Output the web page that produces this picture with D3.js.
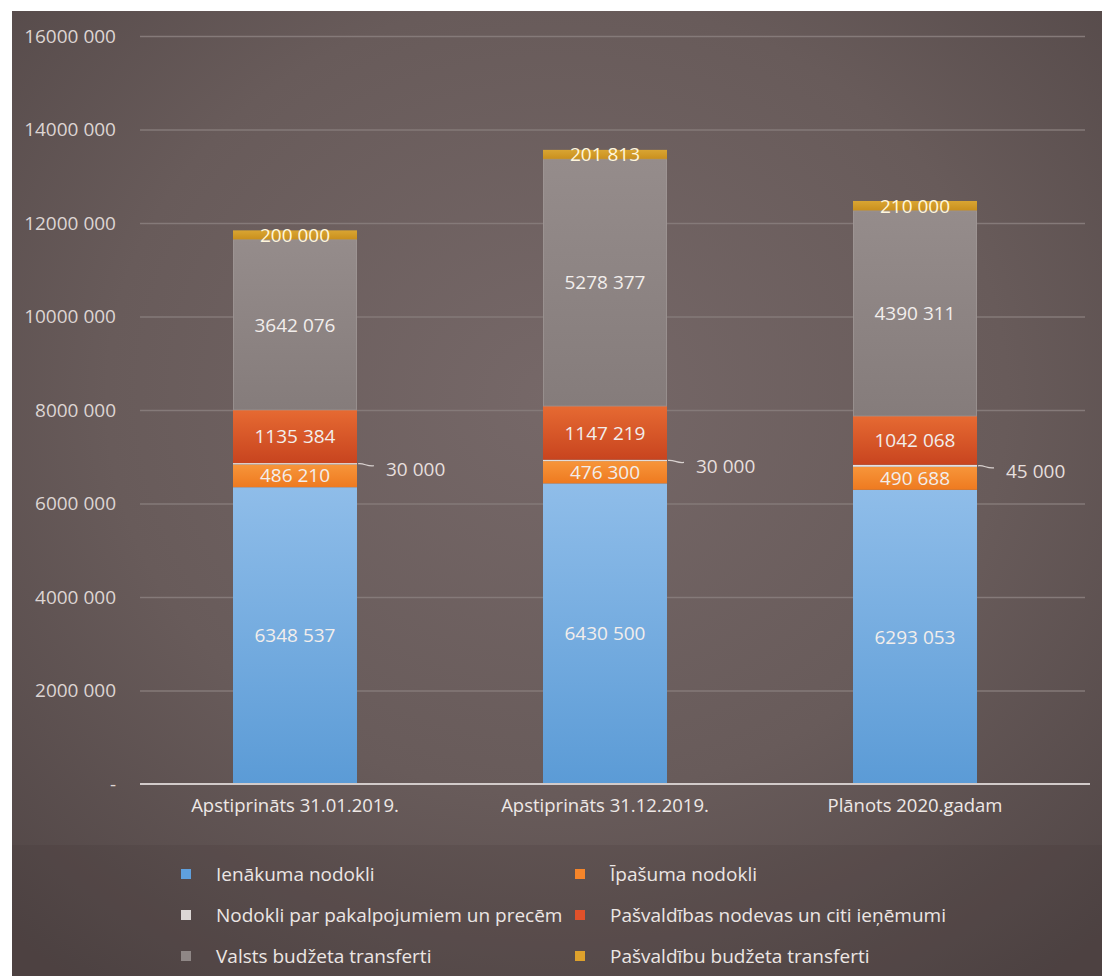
<!DOCTYPE html>
<html>
<head>
<meta charset="utf-8">
<script src="https://cdn.jsdelivr.net/npm/d3@7"></script>
<style>
  html, body { margin: 0; padding: 0; background: #ffffff; }
  svg { display: block; font-family: "Open Sans", sans-serif; }
</style>
</head>
<body>
<svg id="ctner"></svg>
<script>
// data
const categories = ["Apstiprināts 31.01.2019.", "Apstiprināts 31.12.2019.", "Plānots 2020.gadam"];
const seriesNames = [
  "Ienākuma nodokli",
  "Īpašuma nodokli",
  "Nodokli par pakalpojumiem un precēm",
  "Pašvaldības nodevas un citi ieņēmumi",
  "Valsts budžeta transferti",
  "Pašvaldību budžeta transferti"
];
const ienakuma = [6348537, 6430500, 6293053];
const ipasuma = [486210, 476300, 490688];
const pakalpojumi = [30000, 30000, 45000];
const nodevas = [1135384, 1147219, 1042068];
const valstsTransferti = [3642076, 5278377, 4390311];
const pasvaldibuTransferti = [200000, 201813, 210000];
const yTicks = [0, 2000000, 4000000, 6000000, 8000000, 10000000, 12000000, 14000000, 16000000];

main();

function main() {
  const width = 1102;
  const height = 976;
  const svg = d3.select("#ctner").attr("width", width).attr("height", height);

  const margin = { top: 36, left: 140, bottom: 192, right: 32 };
  const plotBottom = height - margin.bottom; // 784

  /* data */
  const values = [ienakuma, ipasuma, pakalpojumi, nodevas, valstsTransferti, pasvaldibuTransferti];
  const table = categories.map((c, i) => {
    const row = { cat: c };
    seriesNames.forEach((s, j) => (row[s] = values[j][i]));
    return row;
  });
  const stacked = d3.stack().keys(seriesNames)(table);

  /* colours (gradients) */
  const defs = svg.append("defs");
  const bg = defs.append("radialGradient").attr("id", "bg")
    .attr("cx", "50%").attr("cy", "40%").attr("r", "75%");
  bg.append("stop").attr("offset", "0%").attr("stop-color", "#766868");
  bg.append("stop").attr("offset", "55%").attr("stop-color", "#685b5a");
  bg.append("stop").attr("offset", "100%").attr("stop-color", "#504545");

  const grads = [
    ["#8fbde9", "#5b9bd6"],
    ["#f7953a", "#ee7a20"],
    ["#ece8e6", "#d9d4d2"],
    ["#e66a32", "#c8441f"],
    ["#958c8b", "#857c7b"],
    ["#d9a532", "#c98f1d"]
  ];
  grads.forEach((g, i) => {
    const lg = defs.append("linearGradient").attr("id", "g" + i)
      .attr("x1", 0).attr("y1", 0).attr("x2", 0).attr("y2", 1);
    lg.append("stop").attr("offset", "0%").attr("stop-color", g[0]);
    lg.append("stop").attr("offset", "100%").attr("stop-color", g[1]);
  });

  /* background panel */
  svg.append("rect").attr("x", 12).attr("y", 11).attr("width", width - 12).attr("height", height - 11)
    .attr("fill", "url(#bg)");
  svg.append("rect").attr("x", 12).attr("y", 845).attr("width", width - 12).attr("height", height - 845)
    .attr("fill", "#3a3030").attr("opacity", 0.15);

  /* scales */
  const x = d3.scaleBand().domain(categories).range([margin.left, 1070]).paddingInner(0.6).paddingOuter(0.3);
  const y = d3.scaleLinear().domain([0, 16000000]).range([plotBottom, margin.top]);

  const fmt = (v) => {
    if (v === 0) return "-";
    const s = String(v);
    return s.slice(0, -3) + " " + s.slice(-3);
  };

  /* grid + y axis */
  const yAxis = svg.append("g").attr("transform", `translate(${margin.left},0)`)
    .call(d3.axisLeft(y).tickValues(yTicks).tickFormat(fmt).tickSize(0).tickPadding(24))
    .call((g) => g.select(".domain").remove());
  yAxis.selectAll(".tick text").attr("fill", "#ddd5d3").style("font-size", "19px")
    .style("font-family", "'Open Sans', sans-serif");
  yAxis.selectAll(".tick line").clone()
    .attr("x2", (d) => (d === 0 ? 0 : 945))
    .attr("stroke", "#857a79").attr("stroke-width", 1.3);

  /* bars */
  const layer = svg.append("g").selectAll("g").data(stacked).join("g")
    .attr("fill", (d, i) => `url(#g${i})`);
  layer.selectAll("rect").data((d) => d).join("rect")
    .attr("x", (d) => x(d.data.cat))
    .attr("width", x.bandwidth())
    .attr("y", (d) => y(d[1]))
    .attr("height", (d) => y(d[0]) - y(d[1]));
  // faint outline on the grey transfer segment
  svg.append("g").selectAll("rect").data(stacked[4]).join("rect")
    .attr("x", (d) => x(d.data.cat) + 0.5)
    .attr("width", x.bandwidth() - 1)
    .attr("y", (d) => y(d[1]))
    .attr("height", (d) => y(d[0]) - y(d[1]))
    .attr("fill", "none").attr("stroke", "#a39b9a").attr("stroke-opacity", 0.6);

  /* baseline */
  svg.append("line").attr("x1", margin.left).attr("x2", 1090)
    .attr("y1", plotBottom).attr("y2", plotBottom)
    .attr("stroke", "#d2cbca").attr("stroke-width", 2);

  /* value labels */
  const labels = svg.append("g").style("font-size", "19px").attr("text-anchor", "middle");
  stacked.forEach((s, i) => {
    if (i === 2) return;
    labels.selectAll(null).data(s).join("text")
      .attr("x", (d) => x(d.data.cat) + x.bandwidth() / 2)
      .attr("y", (d) => (y(d[0]) + y(d[1])) / 2)
      .attr("dy", "0.35em")
      .attr("fill", i === 5 ? "#fff6dc" : "#f2eeec")
      .text((d) => fmt(d[1] - d[0]));
  });
  // outside labels for the thin segment
  const outs = svg.append("g");
  outs.selectAll("path").data(stacked[2]).join("path")
    .attr("d", (d) => {
      const x0 = x(d.data.cat) + x.bandwidth() + 1;
      const yy = y((d[0] + d[1]) / 2);
      return `M${x0},${yy} C${x0 + 6},${yy - 1} ${x0 + 9},${yy + 3} ${x0 + 16},${yy + 2}`;
    })
    .attr("fill", "none").attr("stroke", "#d8d1cf").attr("stroke-width", 1.2);
  outs.selectAll("text").data(stacked[2]).join("text")
    .attr("x", (d) => x(d.data.cat) + x.bandwidth() + 29)
    .attr("y", (d) => y((d[0] + d[1]) / 2) + 6)
    .attr("dy", "0.35em")
    .attr("fill", "#e6dfdd").style("font-size", "19px")
    .text((d) => fmt(d[1] - d[0]));

  /* x axis labels */
  svg.append("g").attr("transform", `translate(0,${plotBottom})`)
    .call(d3.axisBottom(x).tickSize(0).tickPadding(15))
    .call((g) => g.select(".domain").remove())
    .selectAll("text").attr("fill", "#eee8e6").style("font-size", "18.5px")
    .style("font-family", "'Open Sans', sans-serif");

  /* legend */
  const legendPos = [
    [186, 874], [580, 874],
    [186, 915], [580, 915],
    [186, 956], [580, 956]
  ];
  const legendColors = ["#5fa0dd", "#f5852a", "#dcd7d5", "#e0512a", "#8f8786", "#dda12c"];
  const legend = svg.append("g").selectAll("g").data(seriesNames).join("g")
    .attr("transform", (d, i) => `translate(${legendPos[i][0]},${legendPos[i][1]})`);
  legend.append("rect").attr("x", -5).attr("y", -5).attr("width", 10).attr("height", 10)
    .attr("fill", (d, i) => legendColors[i]);
  legend.append("text").attr("x", 30).attr("dy", "0.35em")
    .attr("fill", "#ece6e4").style("font-size", "19px")
    .text((d) => d);
}
</script>
</body>
</html>
